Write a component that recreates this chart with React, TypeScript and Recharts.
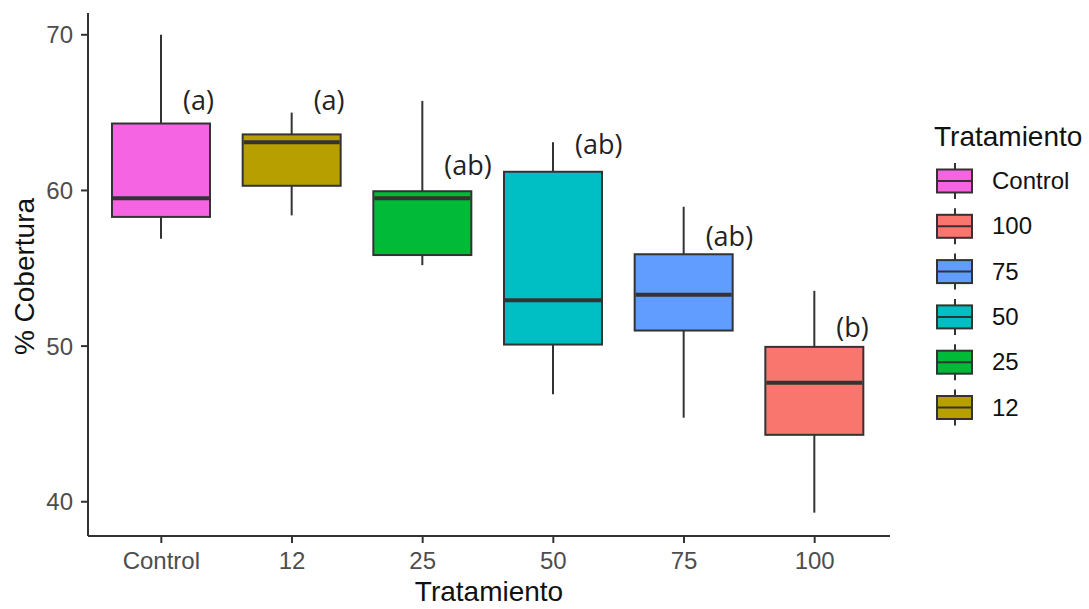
import React from 'react';
import { ComposedChart, Bar, XAxis, YAxis, Legend } from 'recharts';

// Cobertura por tratamiento (boxplot)
const categories = ['Control', '12', '25', '50', '75', '100'];
const whiskerLow = [56.9, 58.4, 55.2, 46.9, 45.4, 39.3];
const q1 = [58.3, 60.3, 55.85, 50.1, 51.0, 44.3];
const median = [59.5, 63.1, 59.5, 52.95, 53.3, 47.65];
const q3 = [64.3, 63.6, 59.95, 61.2, 55.9, 49.95];
const whiskerHigh = [70.0, 65.0, 65.75, 63.1, 58.95, 53.55];
const letters = ['(a)', '(a)', '(ab)', '(ab)', '(ab)', '(b)'];
const letterAt = [65.85, 65.85, 61.65, 63.0, 57.1, 51.25];
const yTicks = [40, 50, 60, 70];
const legendOrder = ['Control', '100', '75', '50', '25', '12'];

const colors: Record<string, string> = {
  Control: '#F564E3',
  '12': '#B79F00',
  '25': '#00BA38',
  '50': '#00BFC4',
  '75': '#619CFF',
  '100': '#F8766D',
};

const data = categories.map((name, i) => ({
  name,
  range: [whiskerLow[i], whiskerHigh[i]],
  lo: whiskerLow[i],
  q1: q1[i],
  med: median[i],
  q3: q3[i],
  hi: whiskerHigh[i],
  letter: letters[i],
  letterAt: letterAt[i],
}));

const ink = '#333333';
const sans = 'Liberation Sans, Arial, sans-serif';

function BoxShape(props: any) {
  const { x, y, width, height, payload } = props;
  const top = Math.min(y, y + height);
  const h = Math.abs(height);
  // map a value to pixels using the whisker range the bar was given by the y scale
  const py = (v: number) => top + ((payload.hi - v) / (payload.hi - payload.lo)) * h;
  const cx = x + width / 2;
  const fill = colors[payload.name];
  return (
    <g>
      <line x1={cx} x2={cx} y1={py(payload.hi)} y2={py(payload.q3)} stroke={ink} strokeWidth={2} />
      <line x1={cx} x2={cx} y1={py(payload.q1)} y2={py(payload.lo)} stroke={ink} strokeWidth={2} />
      <rect
        x={x}
        y={py(payload.q3)}
        width={width}
        height={py(payload.q1) - py(payload.q3)}
        fill={fill}
        stroke={ink}
        strokeWidth={2}
      />
      <line x1={x + 1} x2={x + width - 1} y1={py(payload.med)} y2={py(payload.med)} stroke={ink} strokeWidth={4} />
      <text
        x={cx + 22}
        y={py(payload.letterAt)}
        dominantBaseline="central"
        fontFamily="Open Sans, sans-serif"
        fontSize={27}
        fill="#222222"
      >
        {payload.letter}
      </text>
    </g>
  );
}

function LegendBox() {
  return (
    <svg width={199} height={430} style={{ display: 'block' }}>
      <text x={44} y={146} fontFamily={sans} fontSize={28} fill="#111111">
        Tratamiento
      </text>
      {legendOrder.map((name, i) => {
        const cy = 181 + i * 45.3;
        return (
          <g key={name}>
            <line x1={65} x2={65} y1={cy - 18} y2={cy + 18} stroke={ink} strokeWidth={2} />
            <rect x={47} y={cy - 11.5} width={35} height={23} fill={colors[name]} stroke={ink} strokeWidth={2} />
            <line x1={48} x2={81} y1={cy} y2={cy} stroke={ink} strokeWidth={2} />
            <text x={102} y={cy + 8} fontFamily={sans} fontSize={24} fill="#111111">
              {name}
            </text>
          </g>
        );
      })}
    </svg>
  );
}

function YTitle(props: any) {
  const { viewBox } = props;
  const cy = viewBox.y + viewBox.height / 2 + 2;
  return (
    <text
      x={24}
      y={cy}
      transform={`rotate(-90, 24, ${cy})`}
      textAnchor="middle"
      dominantBaseline="central"
      fontFamily={sans}
      fontSize={28}
      fill="#111111"
    >
      % Cobertura
    </text>
  );
}

function XTitle(props: any) {
  const { viewBox } = props;
  const cx = viewBox.x + viewBox.width / 2;
  return (
    <text x={cx} y={601} textAnchor="middle" fontFamily={sans} fontSize={28} fill="#111111">
      Tratamiento
    </text>
  );
}

export default function App() {
  return (
    <div style={{ position: 'absolute', left: 0, top: 0, background: '#fff' }}>
      <ComposedChart width={1089} height={609} data={data} margin={{ top: 13, right: 0, bottom: 0, left: 0 }}>
        <XAxis
          dataKey="name"
          type="category"
          padding={{ left: 8, right: 10 }}
          height={73}
          tickSize={7}
          tickMargin={9}
          tick={{ fill: '#4D4D4D', fontSize: 24, fontFamily: sans }}
          axisLine={{ stroke: ink, strokeWidth: 2 }}
          tickLine={{ stroke: ink, strokeWidth: 2 }}
          label={<XTitle />}
        />
        <YAxis
          type="number"
          domain={[37.8, 71.4]}
          ticks={yTicks}
          allowDataOverflow
          width={88}
          tickSize={7}
          tickMargin={8}
          tick={{ fill: '#4D4D4D', fontSize: 24, fontFamily: sans }}
          axisLine={{ stroke: ink, strokeWidth: 2 }}
          tickLine={{ stroke: ink, strokeWidth: 2 }}
          label={<YTitle />}
        />
        <Legend
          layout="vertical"
          align="right"
          verticalAlign="top"
          wrapperStyle={{ top: 0, right: 0 }}
          content={() => <LegendBox />}
        />
        <Bar dataKey="range" barSize={98} shape={<BoxShape />} isAnimationActive={false} />
      </ComposedChart>
    </div>
  );
}
